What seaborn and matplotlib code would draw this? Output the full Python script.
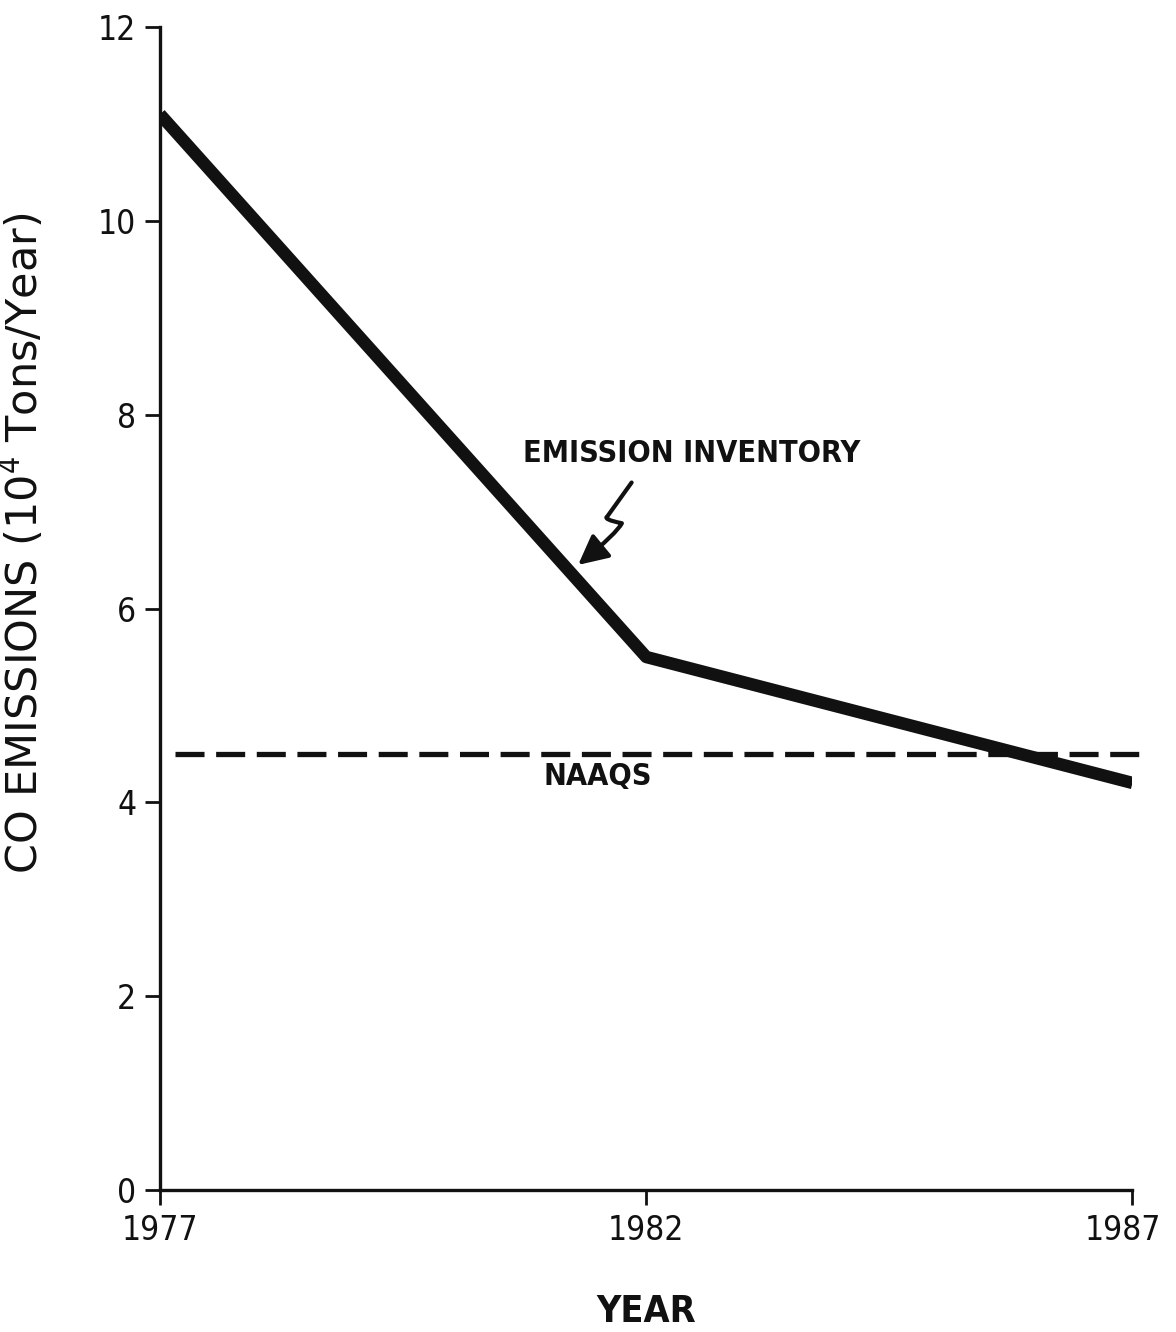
import matplotlib
matplotlib.use("Agg")
import matplotlib.pyplot as plt
from matplotlib.patches import FancyArrowPatch
from matplotlib.path import Path
from matplotlib.transforms import ScaledTranslation
import seaborn as sns
import pandas as pd

years = [1977, 1982, 1987]
emissions = [11.1, 5.5, 4.2]
naaqs_level = 4.5
y_ticks = [0, 2, 4, 6, 8, 10, 12]
x_ticks = [1977, 1982, 1987]

sns.set_theme(style="ticks")
plt.rcParams['font.family'] = ['DejaVu Sans']
plt.rcParams['font.stretch'] = 'condensed'

fig = plt.figure(figsize=(11.76, 13.32), dpi=100)
ax = fig.add_axes([0.136, 0.1066, 0.827, 0.8731])

df = pd.DataFrame({"year": years, "co": emissions})
sns.lineplot(data=df, x="year", y="co", ax=ax, color="#111111", linewidth=9,
             solid_capstyle="butt")
ax.axhline(naaqs_level, color="#111111", linewidth=3.8, dashes=(5.5, 2.2),
           xmin=0.015, xmax=1.007, clip_on=False)

ax.set_xlim(1977, 1987)
ax.set_ylim(0, 12)
ax.set_xticks(x_ticks)
ax.set_yticks(y_ticks)
ax.set_xticklabels([str(y) for y in x_ticks])
ax.tick_params(axis="both", direction="out", length=11, width=2,
               colors="#111111", labelsize=24, pad=6)
for lab in ax.get_xticklabels() + ax.get_yticklabels():
    lab.set_fontstretch('condensed')
    lab.set_fontweight('medium')
last = ax.get_xticklabels()[-1]
last.set_transform(last.get_transform() +
                   ScaledTranslation(-0.1, 0, fig.dpi_scale_trans))
for s in ["top", "right"]:
    ax.spines[s].set_visible(False)
for s in ["left", "bottom"]:
    ax.spines[s].set_linewidth(2.4)
    ax.spines[s].set_color("#111111")

ax.set_xlabel("YEAR", fontsize=27, color="#111111", labelpad=34,
              fontweight='bold', fontstretch='condensed')
ax.set_ylabel("CO EMISSIONS (10$^{4}$ Tons/Year)", fontsize=31,
              color="#111111", fontweight='normal', fontstretch='normal')
ax.yaxis.set_label_coords(-0.116, 0.556)

ax.text(1982.47, 7.6, "EMISSION INVENTORY", ha="center", va="center",
        fontsize=22, color="#111111", fontweight='bold', fontstretch='condensed')
verts = [(1981.85, 7.3), (1981.6, 6.95), (1981.55, 6.92),
         (1981.75, 6.88), (1981.7, 6.78), (1981.3, 6.45)]
codes = [Path.MOVETO, Path.LINETO, Path.CURVE3, Path.CURVE3,
         Path.CURVE3, Path.CURVE3]
arrow = FancyArrowPatch(path=Path(verts, codes),
                        arrowstyle="-|>,head_length=0.9,head_width=0.45",
                        color="#111111", lw=3, mutation_scale=20)
ax.add_patch(arrow)
ax.text(1981.5, 4.27, "NAAQS", ha="center", va="center", fontsize=22,
        color="#111111", fontweight='bold', fontstretch='condensed')

sns.despine(ax=ax)
fig.savefig("out.png", dpi=100)
